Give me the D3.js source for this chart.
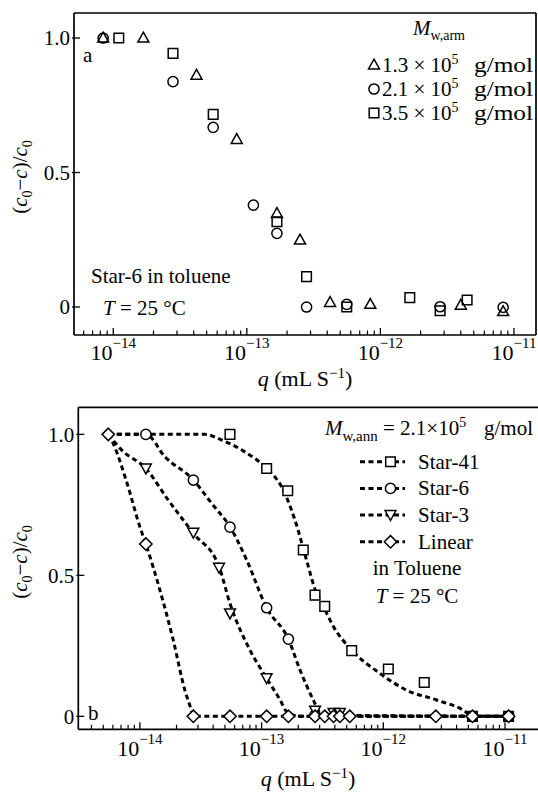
<!DOCTYPE html>
<html><head><meta charset="utf-8">
<script src="https://cdn.jsdelivr.net/npm/d3@7"></script>
<style>
body{margin:0;background:#fff}
text{font-family:"Liberation Serif","Times New Roman",serif;fill:#000}
</style>
</head><body>
<svg id="c" width="538" height="792" font-family="Liberation Serif, Times New Roman, serif"></svg>
<script>
// ---------- Panel a data ----------
const aTriQ  = [8.4e-15, 1.68e-14, 4.2e-14, 8.4e-14, 1.68e-13, 2.5e-13, 4.2e-13, 8.4e-13, 4.0e-12, 8.3e-12];
const aTriV  = [1.0, 1.0, 0.862, 0.623, 0.348, 0.249, 0.017, 0.010, 0.007, -0.017];
const aCircQ = [8.4e-15, 2.8e-14, 5.6e-14, 1.12e-13, 1.68e-13, 2.8e-13, 5.6e-13, 2.8e-12, 8.3e-12];
const aCircV = [1.0, 0.838, 0.668, 0.379, 0.274, 0.0, 0.010, 0.001, -0.001];
const aSqQ   = [1.1e-14, 2.8e-14, 5.6e-14, 1.68e-13, 2.8e-13, 5.6e-13, 1.66e-12, 2.8e-12, 4.46e-12];
const aSqV   = [1.0, 0.943, 0.716, 0.317, 0.113, 0.0, 0.035, -0.014, 0.026];
const aLegend = ["1.3", "2.1", "3.5"];

// ---------- Panel b data ----------
const b41Q  = [5.5e-14, 1.1e-13, 1.64e-13, 2.2e-13, 2.75e-13, 3.3e-13, 5.5e-13, 1.1e-12, 2.17e-12, 5.4e-12, 1.07e-11];
const b41V  = [1.0, 0.879, 0.80, 0.59, 0.43, 0.39, 0.233, 0.168, 0.12, 0.0, 0.0];
const b6Q   = [1.12e-14, 2.75e-14, 5.5e-14, 1.1e-13, 1.66e-13, 2.75e-13, 5.4e-12, 1.07e-11];
const b6V   = [1.0, 0.838, 0.671, 0.385, 0.274, 0.005, 0.0, 0.0];
const b3Q   = [1.12e-14, 2.75e-14, 4.47e-14, 5.5e-14, 1.1e-13, 2.75e-13, 3.9e-13, 4.4e-13];
const b3V   = [0.879, 0.651, 0.527, 0.365, 0.135, 0.02, 0.012, 0.012];
const bLinQ = [5.5e-15, 1.12e-14, 2.75e-14, 5.5e-14, 1.1e-13, 1.66e-13, 2.75e-13, 3.3e-13, 3.9e-13, 4.4e-13, 5.3e-13, 2.7e-12, 5.4e-12, 1.07e-11];
const bLinV = [1.0, 0.611, 0, 0, 0, 0, 0, 0, 0, 0, 0, 0, 0, 0];

// fitted dashed curves
const c41Q = [5.5e-15, 3.4e-14, 4.7e-14, 6.9e-14, 1.1e-13, 1.46e-13, 1.88e-13, 2.34e-13, 2.75e-13, 3.3e-13, 3.9e-13, 5.5e-13, 9.4e-13, 1.55e-12, 2.74e-12, 4.54e-12, 5.43e-12, 1.07e-11];
const c41V = [1.0, 1.0, 0.98, 0.944, 0.879, 0.814, 0.696, 0.554, 0.45, 0.38, 0.318, 0.235, 0.152, 0.093, 0.058, 0.022, 0.0, 0.0];
const c6Q  = [5.5e-15, 1.12e-14, 1.61e-14, 2.75e-14, 3.89e-14, 5.5e-14, 7.55e-14, 1.1e-13, 1.66e-13, 2.07e-13, 2.66e-13, 3.0e-13, 3.5e-13, 1.07e-11];
const c6V  = [1.0, 1.0, 0.92, 0.838, 0.755, 0.672, 0.554, 0.385, 0.274, 0.164, 0.058, 0.015, 0.004, 0.0];
const c3Q  = [5.5e-15, 7.1e-15, 1.12e-14, 1.71e-14, 2.75e-14, 4.47e-14, 5.5e-14, 8.0e-14, 1.1e-13, 1.42e-13, 1.61e-13, 2.07e-13, 1.07e-11];
const c3V  = [1.0, 0.944, 0.879, 0.767, 0.649, 0.531, 0.40, 0.236, 0.135, 0.058, 0.016, 0.0, 0.0];
const cLinQ = [5.5e-15, 6.0e-15, 7.8e-15, 1.0e-14, 1.12e-14, 1.46e-14, 1.88e-14, 2.34e-14, 2.66e-14, 2.75e-14, 1.07e-11];
const cLinV = [1.0, 0.97, 0.83, 0.672, 0.611, 0.448, 0.27, 0.093, 0.02, 0.0, 0.0];
const bLegend = ["Star-41", "Star-6", "Star-3", "Linear"];

// axis ticks
const xMajor = [1e-14, 1e-13, 1e-12, 1e-11];
const xMajorExp = ["−14", "−13", "−12", "−11"];
const yTicks = [0, 0.5, 1.0];
const yTickLabels = ["0", "0.5", "1.0"];

// ---------- drawing ----------
const svg = d3.select("#c");
const zip = (q, v) => q.map((d, i) => [d, v[i]]);

const shapes = {
  triUp: "M0,-5.8L5.5,4L-5.5,4Z",
  triDown: "M-5.4,-4.5L5.4,-4.5L0,5.4Z",
  square: "M-4.8,-4.8H4.8V4.8H-4.8Z",
  diamond: "M0,-6.2L6.2,0L0,6.2L-6.2,0Z",
  circle: d3.symbol(d3.symbolCircle, Math.PI * 5.1 * 5.1)()
};

function rich(g, x, y, segs, opts = {}) {
  const t = g.append("text").attr("x", x).attr("y", y)
    .attr("font-size", opts.size || 21)
    .attr("text-anchor", opts.anchor || "start");
  if (opts.transform) t.attr("transform", opts.transform);
  segs.forEach(s => {
    const ts = t.append("tspan").text(s.t);
    if (s.i) ts.attr("font-style", "italic");
    if (s.fs) ts.attr("font-size", s.fs);
    if (s.dy) ts.attr("dy", s.dy);
  });
  return t;
}

function minorTicks(x) {
  const [d0, d1] = x.domain();
  const out = [];
  for (let k = -16; k <= -10; k++)
    for (let m = 2; m <= 9; m++) {
      const v = m * Math.pow(10, k);
      if (v > d0 && v < d1) out.push(v);
    }
  return out;
}

function axes(g, x, y, x0, x1, y0, y1, labelY, showRight) {
  const sw = 1.7;
  g.append("line").attr("x1", x0).attr("x2", x1).attr("y1", y0).attr("y2", y0).attr("stroke", "#000").attr("stroke-width", sw);
  g.append("line").attr("x1", x0).attr("x2", x1).attr("y1", y1).attr("y2", y1).attr("stroke", "#000").attr("stroke-width", sw);
  g.append("line").attr("x1", x0).attr("x2", x0).attr("y1", y0).attr("y2", y1).attr("stroke", "#000").attr("stroke-width", sw);
  if (showRight) g.append("line").attr("x1", x1).attr("x2", x1).attr("y1", y0).attr("y2", y1).attr("stroke", "#000").attr("stroke-width", sw);
  const ax = g.append("g");
  ax.selectAll("line.maj").data(xMajor).join("line")
    .attr("x1", d => x(d)).attr("x2", d => x(d)).attr("y1", y1).attr("y2", y1 - 7)
    .attr("stroke", "#000").attr("stroke-width", 1.3);
  ax.selectAll("line.min").data(minorTicks(x)).join("line")
    .attr("x1", d => x(d)).attr("x2", d => x(d)).attr("y1", y1).attr("y2", y1 - 4.5)
    .attr("stroke", "#000").attr("stroke-width", 1.2);
  xMajor.forEach((d, i) => {
    rich(ax, x(d), labelY, [{t: "10"}, {t: xMajorExp[i], fs: 15, dy: -12}], {anchor: "middle", size: 22});
  });
  yTicks.forEach((d, i) => {
    g.append("line").attr("x1", x0 - 2).attr("x2", x0 + 6).attr("y1", y(d)).attr("y2", y(d))
      .attr("stroke", "#000").attr("stroke-width", 1.3);
    g.append("text").attr("x", x0 - 4).attr("y", y(d)).attr("dy", "0.35em")
      .attr("text-anchor", "end").attr("font-size", 21).text(yTickLabels[i]);
  });
}

function markers(g, x, y, data, shape, fill) {
  g.append("g").selectAll("path").data(data).join("path")
    .attr("d", shapes[shape])
    .attr("transform", d => `translate(${x(d[0])},${y(d[1])})`)
    .attr("fill", fill).attr("stroke", "#000").attr("stroke-width", 1.5);
}

// ===== Panel a =====
const aX = d3.scaleLog().domain([Math.pow(10, -14.294), Math.pow(10, -10.835)]).range([74, 536]);
const aY = d3.scaleLinear().domain([-0.104, 1.093]).range([335, 13]);
const ga = svg.append("g");
axes(ga, aX, aY, 74, 536, 13, 335, 360, true);
markers(ga, aX, aY, zip(aTriQ, aTriV), "triUp", "none");
markers(ga, aX, aY, zip(aCircQ, aCircV), "circle", "none");
markers(ga, aX, aY, zip(aSqQ, aSqV), "square", "none");

rich(ga, 83, 62, [{t: "a"}]);
rich(ga, 91, 283, [{t: "Star-6 in toluene"}]);
rich(ga, 103, 315, [{t: "T", i: 1}, {t: " = 25 °C"}]);
rich(ga, 305, 386, [{t: "q", i: 1}, {t: " (mL S"}, {t: "−1", fs: 15, dy: -8}, {t: ")", dy: 8}], {anchor: "middle", size: 22});
rich(ga, 0, 0, [{t: "("}, {t: "c", i: 1}, {t: "0", fs: 14, dy: 5}, {t: "−", dy: -5}, {t: "c", i: 1}, {t: ")/"}, {t: "c", i: 1}, {t: "0", fs: 14, dy: 5}],
  {anchor: "middle", transform: "translate(27,177) rotate(-90)"});

// legend a
rich(ga, 439, 35, [{t: "M", i: 1}, {t: "w,arm", fs: 14, dy: 5}], {anchor: "middle"});
const aShapes = ["triUp", "circle", "square"];
aLegend.forEach((m, i) => {
  const yy = 65 + i * 24;
  ga.append("path").attr("d", shapes[aShapes[i]]).attr("transform", `translate(374,${yy})`)
    .attr("fill", "none").attr("stroke", "#000").attr("stroke-width", 1.5);
  rich(ga, 382, yy + 7, [{t: m + " × 10"}, {t: "5", fs: 14, dy: -8}]);
  rich(ga, 533, yy + 7, [{t: "g/mol"}], {anchor: "end"})
    .attr("textLength", 59).attr("lengthAdjust", "spacingAndGlyphs");
});

// ===== Panel b =====
const bX = d3.scaleLog().domain([Math.pow(10, -14.506), Math.pow(10, -10.729)]).range([78.3, 538]);
const bY = d3.scaleLinear().domain([-0.046, 1.096]).range([729.3, 407.3]);
const gb = svg.append("g");
axes(gb, bX, bY, 78.3, 538, 407.3, 729.3, 756, false);

const line = d3.line().x(d => bX(d[0])).y(d => bY(d[1])).curve(d3.curveMonotoneX);
const curves = [zip(c41Q, c41V), zip(c6Q, c6V), zip(c3Q, c3V), zip(cLinQ, cLinV)];
curves.forEach(c => {
  gb.append("path").attr("d", line(c)).attr("fill", "none").attr("stroke", "#000")
    .attr("stroke-width", 3).attr("stroke-dasharray", "5,3.5");
});
markers(gb, bX, bY, zip(b41Q, b41V), "square", "#fff");
markers(gb, bX, bY, zip(b6Q, b6V), "circle", "#fff");
markers(gb, bX, bY, zip(b3Q, b3V), "triDown", "#fff");
markers(gb, bX, bY, zip(bLinQ, bLinV), "diamond", "#fff");

rich(gb, 88, 720, [{t: "b"}]);
rich(gb, 308, 786, [{t: "q", i: 1}, {t: " (mL S"}, {t: "−1", fs: 15, dy: -8}, {t: ")", dy: 8}], {anchor: "middle", size: 22});
rich(gb, 0, 0, [{t: "("}, {t: "c", i: 1}, {t: "0", fs: 14, dy: 5}, {t: "−", dy: -5}, {t: "c", i: 1}, {t: ")/"}, {t: "c", i: 1}, {t: "0", fs: 14, dy: 5}],
  {anchor: "middle", transform: "translate(27,562) rotate(-90)"});

// legend b
rich(gb, 325, 435, [{t: "M", i: 1}, {t: "w,ann", fs: 15, dy: 6}, {t: " = 2.1×10", dy: -6}, {t: "5", fs: 14, dy: -8}]);
rich(gb, 533, 435, [{t: "g/mol"}], {anchor: "end"});
const bShapes = ["square", "circle", "triDown", "diamond"];
bLegend.forEach((name, i) => {
  const yy = 461.7 + i * 26.7;
  gb.append("line").attr("x1", 360).attr("x2", 405).attr("y1", yy).attr("y2", yy)
    .attr("stroke", "#000").attr("stroke-width", 3).attr("stroke-dasharray", "5,3.5");
  gb.append("path").attr("d", shapes[bShapes[i]]).attr("transform", `translate(390.5,${yy})`)
    .attr("fill", "#fff").attr("stroke", "#000").attr("stroke-width", 1.5);
  rich(gb, 418, yy + 7, [{t: name}]);
});
rich(gb, 417, 575, [{t: "in Toluene"}], {anchor: "middle"});
rich(gb, 417, 603, [{t: "T", i: 1}, {t: " = 25 °C"}], {anchor: "middle"});
</script>
</body></html>
